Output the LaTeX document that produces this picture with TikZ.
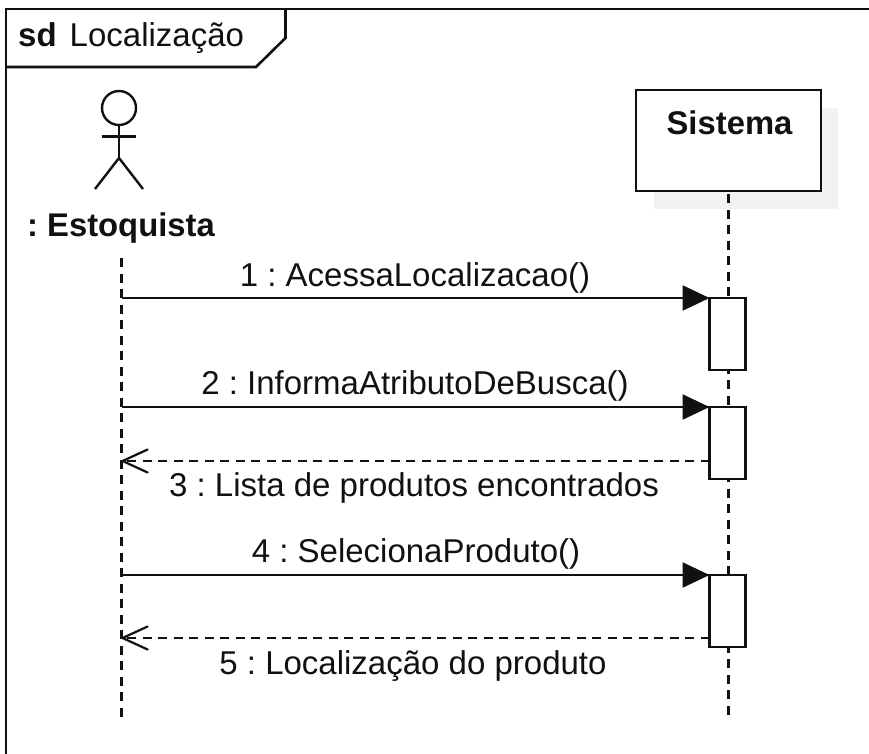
\documentclass[tikz,border=0pt]{standalone}
\usepackage{fontspec}
\setmainfont{Liberation Sans}
\usetikzlibrary{arrows.meta,positioning}
\definecolor{ShadowClr}{HTML}{F2F2F2}
\definecolor{LineClr}{HTML}{111111}
\frenchspacing
\tikzset{
  msgtxt/.style={font=\fontsize{33}{38}\selectfont,inner sep=0pt,text=LineClr},
  boldtxt/.style={font=\fontsize{32.8}{38}\selectfont\bfseries,inner sep=0pt,text=LineClr},
  actbox/.style={draw=LineClr,fill=white,line width=2.5pt,minimum width=36pt,minimum height=72pt,inner sep=0pt,outer sep=0pt},
  lifeline/.style={line width=2.4pt,draw=LineClr,dash pattern=on 9pt off 6.5pt},
  callmsg/.style={line width=2.5pt,draw=LineClr,-{Triangle[length=27pt,width=25pt]}},
  replymsg/.style={line width=2.4pt,draw=LineClr,dash pattern=on 9pt off 6.5pt,-{Straight Barb[length=25pt,width=23pt,line width=2.2pt,round]}},
}

\begin{document}
\begin{tikzpicture}[x=1pt,y=-1pt]
\useasboundingbox (0,0) rectangle (869,754);

% frame
\draw[line width=2.6pt,draw=LineClr] (6,754) -- (6,9) -- (869,9);
\draw[line width=2.6pt,draw=LineClr] (6,67) -- (256,67) -- (285.5,38) -- (285.5,9);
\node[anchor=base west,inner sep=0pt,text=LineClr] (FrameName) at (18,47) {\fontsize{33}{38}\selectfont\textbf{sd}\hspace{13pt}Localização};

% actor
\node[circle,draw=LineClr,line width=2.4pt,minimum size=34pt,inner sep=0pt,outer sep=0pt] (Head) at (119,108) {};
\coordinate (Hip) at (119,158);
\draw[line width=2.4pt,draw=LineClr] (Head.south) -- (Hip);
\draw[line width=2.4pt,draw=LineClr] (102,136.5) -- (136,136.5);
\draw[line width=2.4pt,draw=LineClr] (95,189) -- (Hip) -- (143,189);
\node[boldtxt] (Actor) at (121,228.5) {: Estoquista};

% system
\node[fill=ShadowClr,minimum width=184pt,minimum height=101pt,inner sep=0pt] (SysShadow) at (746,158.5) {};
\node[draw=LineClr,fill=white,line width=2.5pt,minimum width=185pt,minimum height=101pt,inner sep=0pt,outer sep=0pt] (Sys) at (728.5,140.5) {};
\node[boldtxt] (SysName) at (729.5,123) {Sistema};

% lifelines
\coordinate (ActorTop) at (121.5,258);
\coordinate (ActorEnd) at (121.5,720);
\coordinate (SysEnd) at (728.5,718);
\draw[lifeline] (ActorTop) -- (ActorEnd);
\draw[lifeline] (Sys.south) ++(0,3) -- (SysEnd);

% activations
\node[actbox] (ActA) at (727.5,334) {};
\node[actbox] (ActB) at (727.5,443) {};
\node[actbox] (ActC) at (727.5,611) {};

% messages
\coordinate (MsgA) at (121.5,298);
\coordinate (MsgB) at (121.5,407);
\coordinate (MsgC) at (121.5,461);
\coordinate (MsgD) at (121.5,575);
\coordinate (MsgE) at (121.5,638);
\draw[callmsg] (MsgA) -- (ActA.west |- MsgA);
\draw[callmsg] (MsgB) -- (ActB.west |- MsgB);
\draw[replymsg] (ActB.west |- MsgC) -- (MsgC);
\draw[callmsg] (MsgD) -- (ActC.west |- MsgD);
\draw[replymsg] (ActC.west |- MsgE) -- (MsgE);

\node[msgtxt] (LblA) at (415,277.5) {1 : AcessaLocalizacao()};
\node[msgtxt] (LblB) at (415,386) {2 : InformaAtributoDeBusca()};
\node[msgtxt] (LblC) at (414,487.5) {3 : Lista de produtos encontrados};
\node[msgtxt] (LblD) at (416,554) {4 : SelecionaProduto()};
\node[msgtxt] (LblE) at (413,666.5) {5 : Localização do produto};

\end{tikzpicture}
\end{document}
